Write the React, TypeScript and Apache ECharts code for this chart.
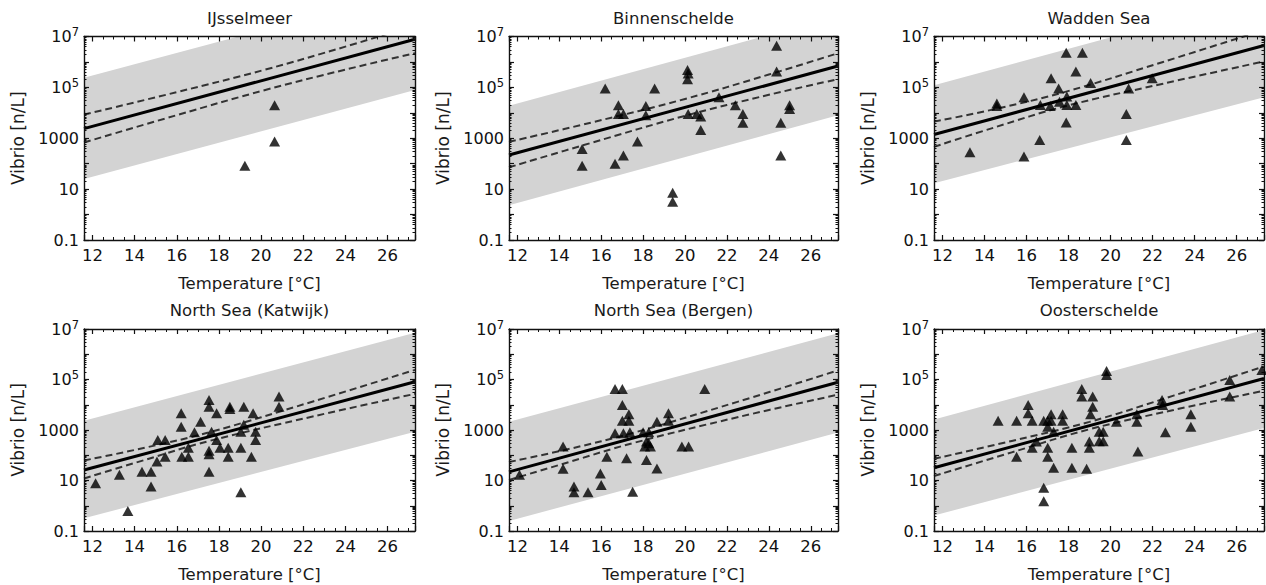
import React, { useEffect, useRef } from "react";
import * as echarts from "echarts";

const FONT = "DejaVu Sans";
const X_MIN = 11.6;
const X_MAX = 27.3;
const Y_MIN = 0.1;
const Y_MAX = 1e7;

const TITLES = [
  "IJsselmeer",
  "Binnenschelde",
  "Wadden Sea",
  "North Sea (Katwijk)",
  "North Sea (Bergen)",
  "Oosterschelde",
];

// temperatures at which the fit line and the grey band are read (plot edges)
const LINE_T = [11.6, 27.3];

// ---------- IJsselmeer ----------
const IJS_POINTS = [[19.23, 83], [20.64, 740], [20.64, 20000]];
const IJS_FIT = [2400, 7.8e6];
const IJS_BAND_HI = [2.4e5, 7.2e8];
const IJS_BAND_LO = [25, 7.9e4];
const IJS_CI_T = [11.6, 16, 20.2, 24, 27.3];
const IJS_CI_HI = [8500, 65000, 5.0e5, 4.0e6, 2.75e7];
const IJS_CI_LO = [680, 8100, 7.9e4, 5.0e5, 2.2e6];

// ---------- Binnenschelde ----------
const BIN_POINTS = [
  [15.09, 380], [15.09, 83], [16.19, 91000], [16.82, 20000], [16.82, 8900],
  [17.06, 8900], [16.66, 100], [17.06, 210], [17.73, 740], [18.13, 18600],
  [18.13, 8100], [18.55, 91000], [20.12, 480000], [20.15, 350000], [20.12, 210000],
  [20.15, 8900], [20.56, 8900], [20.75, 7100], [20.75, 2100], [19.41, 7.2],
  [19.41, 3.2], [21.62, 41000], [22.4, 20000], [22.76, 8900], [22.76, 4100],
  [24.37, 4.3e6], [24.37, 4.2e5], [24.57, 4100], [24.57, 210], [24.99, 20000],
  [24.99, 14000],
];
const BIN_FIT = [220, 6.9e5];
const BIN_BAND_HI = [1.9e4, 6.3e7];
const BIN_BAND_LO = [2.3, 8100];
const BIN_CI_T = [11.6, 15.5, 20.0, 24, 27.3];
const BIN_CI_HI = [720, 4100, 35000, 3.2e5, 2.2e6];
const BIN_CI_LO = [72, 650, 7600, 5.1e4, 2.1e5];

// ---------- Wadden Sea ----------
const WAD_POINTS = [
  [13.31, 280], [14.59, 23000], [14.59, 18600], [15.88, 41000], [15.88, 190],
  [16.63, 850], [16.66, 20400], [17.13, 18600], [17.17, 230000], [17.53, 91000],
  [17.57, 27500], [17.89, 2.3e6], [17.92, 44000], [17.92, 20400], [17.89, 4200],
  [18.35, 420000], [18.35, 20400], [18.66, 2.3e6], [19.05, 150000], [20.75, 8900],
  [20.75, 850], [20.86, 91000], [21.98, 230000],
];
const WAD_FIT = [1400, 4.4e6];
const WAD_BAND_HI = [1.2e5, 4e8];
const WAD_BAND_LO = [17, 4.1e4];
const WAD_CI_T = [11.6, 14.5, 17.8, 22.5, 27.3];
const WAD_CI_HI = [4500, 14000, 65000, 1.0e6, 1.8e7];
const WAD_CI_LO = [460, 2700, 17800, 1.4e5, 1.05e6];

// ---------- North Sea (Katwijk) ----------
const KAT_POINTS = [
  [12.15, 7.8], [13.28, 17], [13.68, 0.62], [14.35, 22], [14.78, 22],
  [14.78, 5.8], [15.06, 56], [15.1, 400], [15.45, 400], [15.45, 87],
  [16.21, 4600], [16.21, 1350], [16.24, 87], [16.55, 87], [16.55, 200],
  [16.84, 810], [17.13, 2100], [17.53, 15500], [17.53, 8300], [17.53, 150],
  [17.53, 110], [17.53, 22], [17.65, 850], [17.89, 4600], [17.89, 400],
  [18.05, 200], [18.44, 200], [18.44, 87], [18.52, 8300], [18.52, 6800],
  [19.04, 850], [19.04, 200], [19.04, 3.4], [19.18, 8300], [19.18, 1600],
  [19.62, 4600], [19.54, 87], [19.74, 850], [19.74, 400], [20.85, 21000],
  [20.85, 8300],
];
const KAT_FIT = [26, 8.1e4];
const KAT_BAND_HI = [2300, 7.1e6];
const KAT_BAND_LO = [0.32, 850];
const KAT_CI_T = [11.6, 14.5, 17.5, 22.5, 27.3];
const KAT_CI_HI = [62, 200, 790, 13800, 2.4e5];
const KAT_CI_LO = [12, 66, 360, 3500, 2.7e4];

// ---------- North Sea (Bergen) ----------
const BER_POINTS = [
  [12.1, 17], [14.18, 220], [14.18, 29], [14.7, 5.8], [14.7, 3.4],
  [15.37, 3.4], [15.96, 19], [16.0, 6.6], [16.27, 87], [16.66, 42000],
  [16.66, 740], [17.01, 42000], [17.01, 9800], [17.01, 2300], [17.06, 740],
  [17.21, 76], [17.32, 4200], [17.32, 2300], [17.37, 810], [17.5, 3.6],
  [18.0, 810], [18.08, 220], [18.16, 350], [18.16, 65], [18.27, 810],
  [18.27, 300], [18.35, 220], [18.66, 30], [18.66, 2100], [19.21, 4600],
  [19.21, 2300], [19.85, 220], [20.17, 220], [20.94, 42000],
];
const BER_FIT = [22, 7.8e4];
const BER_BAND_HI = [2100, 6.8e6];
const BER_BAND_LO = [0.25, 790];
const BER_CI_T = [11.6, 14.5, 17.5, 22.5, 27.3];
const BER_CI_HI = [54, 180, 760, 13000, 2.3e5];
const BER_CI_LO = [10.5, 55, 300, 3200, 2.5e4];

// ---------- Oosterschelde ----------
const OOS_POINTS = [
  [14.65, 2300], [15.53, 2300], [15.53, 87], [16.08, 9800], [16.08, 4600],
  [16.27, 2300], [16.27, 200], [16.47, 350], [16.82, 2300], [16.82, 5.2],
  [16.82, 1.5], [17.01, 2300], [17.01, 1350], [17.01, 200], [17.01, 87],
  [17.17, 4200], [17.17, 2300], [17.29, 32], [17.29, 850], [17.72, 4200],
  [17.72, 2300], [18.16, 200], [18.16, 32], [18.63, 42000], [18.63, 21000],
  [18.86, 29], [18.99, 350], [18.99, 200], [19.15, 21000], [19.15, 8300],
  [19.05, 4200], [19.46, 850], [19.46, 360], [19.65, 850], [19.65, 360],
  [19.81, 219000], [19.81, 150000], [20.28, 2100], [21.25, 4200], [21.25, 2100],
  [21.3, 140], [22.45, 15500], [22.48, 9800], [22.61, 810], [23.82, 4200],
  [23.82, 1350], [25.67, 95000], [25.67, 21000], [27.2, 240000],
];
const OOS_FIT = [32, 1.1e5];
const OOS_BAND_HI = [2600, 9.1e6];
const OOS_BAND_LO = [0.41, 1200];
const OOS_CI_T = [11.6, 15.3, 19.0, 23, 27.3];
const OOS_CI_HI = [72, 370, 2100, 23000, 3.3e5];
const OOS_CI_LO = [15, 130, 1070, 6200, 3.6e4];

const PANELS = [
  { points: IJS_POINTS, fit: IJS_FIT, bandHi: IJS_BAND_HI, bandLo: IJS_BAND_LO, ciT: IJS_CI_T, ciHi: IJS_CI_HI, ciLo: IJS_CI_LO },
  { points: BIN_POINTS, fit: BIN_FIT, bandHi: BIN_BAND_HI, bandLo: BIN_BAND_LO, ciT: BIN_CI_T, ciHi: BIN_CI_HI, ciLo: BIN_CI_LO },
  { points: WAD_POINTS, fit: WAD_FIT, bandHi: WAD_BAND_HI, bandLo: WAD_BAND_LO, ciT: WAD_CI_T, ciHi: WAD_CI_HI, ciLo: WAD_CI_LO },
  { points: KAT_POINTS, fit: KAT_FIT, bandHi: KAT_BAND_HI, bandLo: KAT_BAND_LO, ciT: KAT_CI_T, ciHi: KAT_CI_HI, ciLo: KAT_CI_LO },
  { points: BER_POINTS, fit: BER_FIT, bandHi: BER_BAND_HI, bandLo: BER_BAND_LO, ciT: BER_CI_T, ciHi: BER_CI_HI, ciLo: BER_CI_LO },
  { points: OOS_POINTS, fit: OOS_FIT, bandHi: OOS_BAND_HI, bandLo: OOS_BAND_LO, ciT: OOS_CI_T, ciHi: OOS_CI_HI, ciLo: OOS_CI_LO },
];

// layout (pixels)
const COL_LEFT = [84, 509, 934];
const COL_WIDTH = [331, 329, 330];
const ROW_TOP = [36.5, 329];
const ROW_HEIGHT = [203.5, 202];

// y tick labels appear on every second decade (odd exponents)
function yLabel(v: number): string {
  const e = Math.round(Math.log10(v));
  if (Math.abs(e) % 2 === 0) return "";
  if (e >= 4) return `{b|10}{sup|${e}}`;
  if (e < 0) return `{b|${Number(v.toPrecision(1))}}`;
  return `{b|${Math.round(v)}}`;
}

function buildOption() {
  const grid: any[] = [];
  const xAxis: any[] = [];
  const yAxis: any[] = [];
  const series: any[] = [];
  const title: any[] = [];

  PANELS.forEach((p, i) => {
    const col = i % 3;
    const row = Math.floor(i / 3);
    grid.push({
      left: COL_LEFT[col],
      top: ROW_TOP[row],
      width: COL_WIDTH[col],
      height: ROW_HEIGHT[row],
      containLabel: false,
    });
    title.push({
      text: TITLES[i],
      left: COL_LEFT[col] + COL_WIDTH[col] / 2,
      top: ROW_TOP[row] - 27,
      textAlign: "center",
      padding: 0,
      textStyle: { fontFamily: FONT, fontSize: 16.5, fontWeight: "normal", color: "#1a1a1a" },
    });

    const axisLine = { show: true, onZero: false, lineStyle: { color: "#111", width: 1.4 } };
    const xBase = {
      type: "value",
      gridIndex: i,
      min: X_MIN,
      max: X_MAX,
      splitNumber: 8,
      z: 3,
      splitLine: { show: false },
      axisLine,
      axisTick: { show: true, inside: true, length: 5, interval: 0, lineStyle: { color: "#111", width: 1.2 } },
      minorTick: { show: true, splitNumber: 4, length: 3, lineStyle: { color: "#111", width: 1 } },
    };
    xAxis.push({
      ...xBase,
      position: "bottom",
      name: "Temperature [°C]",
      nameLocation: "middle",
      nameGap: 35,
      nameTextStyle: { fontFamily: FONT, fontSize: 16.5, color: "#1a1a1a" },
      axisLabel: {
        show: true,
        interval: 0,
        showMinLabel: false,
        showMaxLabel: false,
        margin: 7,
        fontFamily: FONT,
        fontSize: 16.5,
        color: "#111",
      },
    });
    xAxis.push({ ...xBase, position: "top", axisLabel: { show: false } });

    const yBase = {
      type: "log",
      logBase: 10,
      gridIndex: i,
      min: Y_MIN,
      max: Y_MAX,
      z: 3,
      splitLine: { show: false },
      axisLine,
      axisTick: { show: true, inside: true, length: 5, interval: 0, lineStyle: { color: "#111", width: 1.2 } },
      minorTick: { show: true, splitNumber: 9, length: 2.5, lineStyle: { color: "#111", width: 1 } },
    };
    yAxis.push({
      ...yBase,
      position: "left",
      name: "Vibrio [n/L]",
      nameLocation: "middle",
      nameGap: 58,
      nameTextStyle: { fontFamily: FONT, fontSize: 17, color: "#1a1a1a" },
      axisLabel: {
        show: true,
        interval: 0,
        margin: 5,
        formatter: yLabel,
        rich: {
          b: { fontFamily: FONT, fontSize: 16, color: "#111" },
          sup: { fontFamily: FONT, fontSize: 11.5, color: "#111", verticalAlign: "bottom", padding: [0, 0, 9, 0] },
        },
      },
    });
    yAxis.push({ ...yBase, position: "right", axisLabel: { show: false } });

    const xi = 2 * i;
    const yi = 2 * i;
    const bandData = LINE_T.map((t, k) => [t, p.bandLo[k], p.bandHi[k]]);
    series.push({
      type: "custom",
      xAxisIndex: xi,
      yAxisIndex: yi,
      clip: true,
      silent: true,
      z: 1,
      data: bandData,
      encode: { x: 0, y: [1, 2] },
      renderItem: (params: any, api: any) => {
        const k = params.dataIndex;
        if (k >= bandData.length - 1) return null;
        const a = bandData[k];
        const b = bandData[k + 1];
        const pts = [
          api.coord([a[0], a[2]]),
          api.coord([b[0], b[2]]),
          api.coord([b[0], b[1]]),
          api.coord([a[0], a[1]]),
        ];
        return { type: "polygon", shape: { points: pts }, style: { fill: "#d3d3d3", stroke: null } };
      },
    });
    const dashed = { color: "#333", width: 2, type: [7, 4] };
    series.push({
      type: "line",
      xAxisIndex: xi,
      yAxisIndex: yi,
      z: 2,
      smooth: 0.4,
      showSymbol: false,
      silent: true,
      data: p.ciT.map((t, k) => [t, p.ciHi[k]]),
      lineStyle: dashed,
    });
    series.push({
      type: "line",
      xAxisIndex: xi,
      yAxisIndex: yi,
      z: 2,
      smooth: 0.4,
      showSymbol: false,
      silent: true,
      data: p.ciT.map((t, k) => [t, p.ciLo[k]]),
      lineStyle: dashed,
    });
    series.push({
      type: "line",
      xAxisIndex: xi,
      yAxisIndex: yi,
      z: 2,
      showSymbol: false,
      silent: true,
      data: LINE_T.map((t, k) => [t, p.fit[k]]),
      lineStyle: { color: "#000", width: 3 },
    });
    series.push({
      type: "scatter",
      xAxisIndex: xi,
      yAxisIndex: yi,
      z: 4,
      symbol: "triangle",
      symbolSize: [11, 10],
      silent: true,
      data: p.points,
      itemStyle: { color: "#000" },
    });
  });

  return {
    animation: false,
    backgroundColor: "#fff",
    textStyle: { fontFamily: FONT },
    title,
    grid,
    xAxis,
    yAxis,
    series,
  };
}

export default function App() {
  const ref = useRef<HTMLDivElement>(null);
  useEffect(() => {
    document.body.style.margin = "0";
    if (!ref.current) return;
    const chart = echarts.init(ref.current, undefined, { renderer: "svg" });
    chart.setOption(buildOption() as any);
    return () => chart.dispose();
  }, []);
  return (
    <div
      ref={ref}
      style={{ position: "absolute", left: 0, top: 0, width: 1266, height: 585, background: "#fff" }}
    />
  );
}
